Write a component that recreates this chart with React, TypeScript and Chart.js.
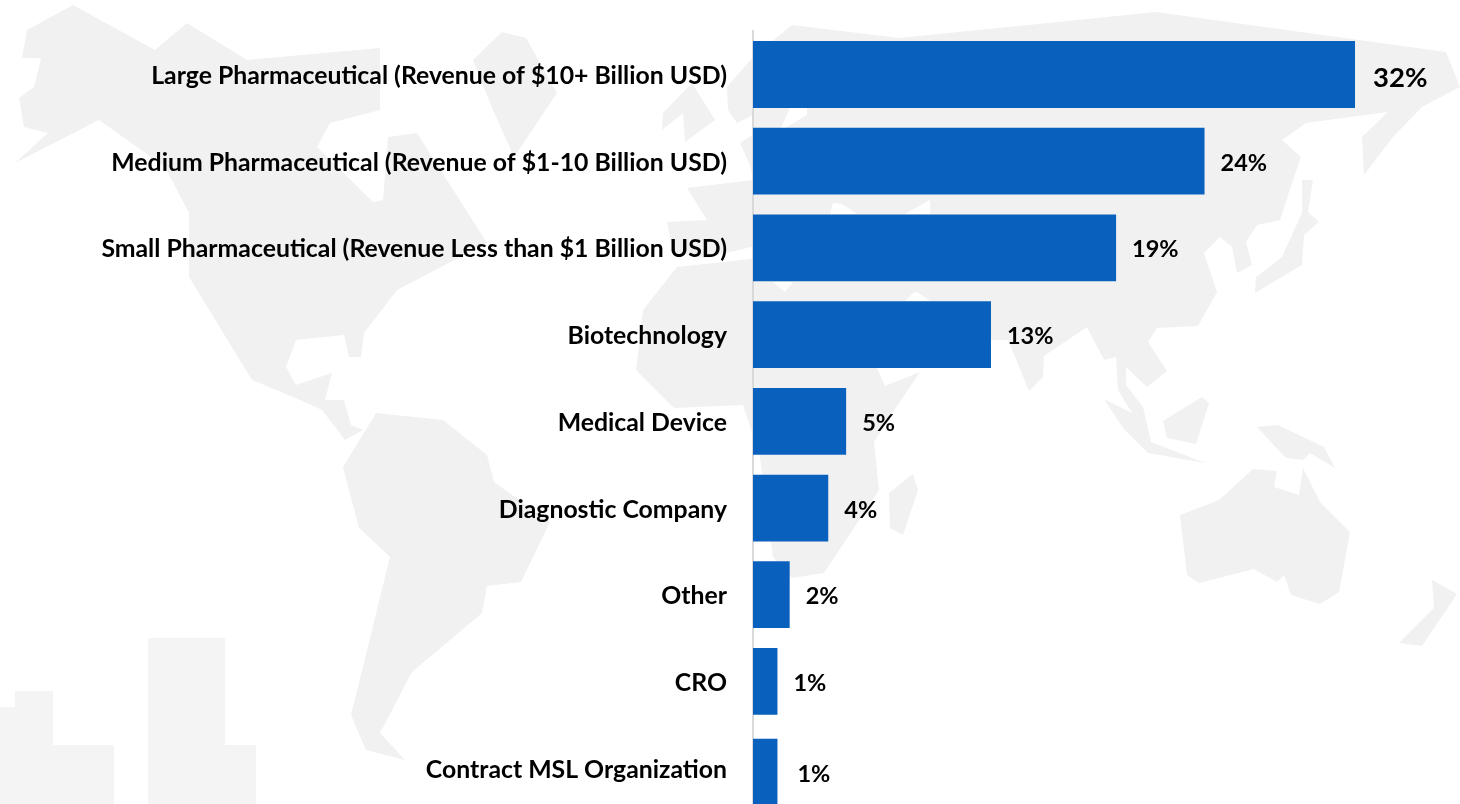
import React, { useEffect, useRef } from "react";
import { Chart, registerables } from "chart.js";

Chart.register(...registerables);

const categories = [
  "Large Pharmaceutical (Revenue of $10+ Billion USD)",
  "Medium Pharmaceutical (Revenue of $1-10 Billion USD)",
  "Small Pharmaceutical (Revenue Less than $1 Billion USD)",
  "Biotechnology",
  "Medical Device",
  "Diagnostic Company",
  "Other",
  "CRO",
  "Contract MSL Organization",
];
const shares = [32.0, 24.0, 19.3, 12.65, 4.95, 4.0, 1.95, 1.3, 1.3];

const FONT = "Lato, 'Open Sans', sans-serif";
const BLUE = "#0a60bd";
const MAP_GREY = "#f1f1f1";

const continents = [
  // North America
  "27,30 73,5 155,50 187,23 247,60 380,48 380,110 330,123 317,147 373,202 383,200 388,137 417,133 487,243 397,290 364,333 361,357 349,357 344,335 296,340 286,367 296,385 332,373 325,400 344,400 351,425 363,430 345,440 322,410 300,400 252,380 189,277 189,213 165,167 99,120 15,163 48,133 24,127 19,98 34,87 41,58 22,58",
  // Greenland
  "473,60 502,32 526,38 557,93 521,147 514,157 490,103",
  // South America
  "376,413 443,420 487,455 494,482 550,522 521,582 487,586 482,613 412,672 380,733 405,760 366,750 351,715 390,557 359,528 343,467",
  // British Isles
  "662,130 663,113 692,83 715,120 685,142 683,113",
  // Europe
  "753,57 727,87 728,110 737,123 753,115 760,130 740,143 750,165 753,180 687,188 707,220 667,222 673,252 705,258 760,245",
  // Africa
  "760,258 677,267 643,310 636,370 674,408 743,405 760,457 773,557 792,578 824,573 879,490 874,442 893,412 920,372 885,386 878,370 850,330 800,270",
  // Asia
  "753,57 792,25 899,38 1156,12 1446,52 1460,87 1422,107 1393,137 1364,175 1362,137 1388,112 1350,117 1306,123 1282,140 1301,157 1293,180 1280,220 1257,225 1246,242 1252,265 1237,273 1232,247 1220,237 1204,253 1217,292 1198,326 1157,328 1148,342 1167,371 1147,387 1126,367 1126,385 1143,407 1151,442 1205,463 1148,453 1123,428 1104,399 1132,413 1118,390 1116,357 1104,360 1087,327 1044,356 1043,377 1029,391 1008,340 980,340 900,345 800,300 760,290 753,200",
  // Japan
  "1302,180 1313,180 1308,212 1319,222 1304,235 1302,265 1255,293 1256,277 1282,257 1302,213",
  // Borneo
  "1163,421 1202,397 1209,403 1196,444 1167,438",
  // New Guinea
  "1257,427 1278,425 1324,447 1335,468 1310,453 1303,460 1286,458",
  // Australia
  "1253,469 1277,471 1274,487 1299,495 1303,468 1320,502 1350,532 1339,592 1320,604 1291,595 1284,575 1277,582 1254,569 1199,583 1187,575 1180,515 1219,500",
  // New Zealand
  "1432,580 1457,594 1422,646 1399,643 1434,608",
  // Madagascar
  "913,474 918,490 903,535 890,528 889,493",
];

const seas = [
  "790,108 807,108 807,115 785,128 781,128",
  "833,203 842,204 857,214 830,214",
  "905,214 930,200 930,214",
  "773,282 793,282 785,292",
  "913,293 917,292 930,301 905,301",
];

const buildings = [
  "0,707 15,707 15,691 53,691 53,745 114,745 114,804 0,804",
  "148,638 225,638 225,745 256,745 256,804 148,804",
];

const lastBarShift = {
  id: "lastBarShift",
  afterDatasetsUpdate(chart: any) {
    const bars = chart.getDatasetMeta(0).data;
    const last = bars[bars.length - 1];
    last.y += 4;
    last.base -= 2;
  },
};

const tickNudge = {
  id: "tickNudge",
  beforeDraw(chart: any) {
    chart.scales.y.getLabelItems().forEach((item: any) => {
      item.options.translation = [item.options.translation[0], item.options.translation[1] + 1.5];
    });
  },
};

const valueLabels = {
  id: "valueLabels",
  afterDatasetsDraw(chart: any) {
    const { ctx } = chart;
    const bars = chart.getDatasetMeta(0).data;
    ctx.save();
    ctx.fillStyle = "#000000";
    ctx.textAlign = "left";
    ctx.textBaseline = "middle";
    bars.forEach((bar: any, i: number) => {
      ctx.font = `700 ${i === 0 ? 27.5 : 23.5}px ${FONT}`;
      const gap = i === 0 ? 18 : i === bars.length - 1 ? 20 : 16;
      ctx.fillText(`${Math.round(shares[i])}%`, bar.x + gap, bar.y + (i === 0 ? 3.5 : 2));
    });
    ctx.restore();
  },
};

export default function App() {
  const canvasRef = useRef<HTMLCanvasElement | null>(null);

  useEffect(() => {
    const chart = new Chart(canvasRef.current as HTMLCanvasElement, {
      type: "bar",
      data: {
        labels: categories,
        datasets: [
          {
            data: shares,
            backgroundColor: BLUE,
            barPercentage: 0.77,
            categoryPercentage: 1,
          },
        ],
      },
      options: {
        indexAxis: "y",
        responsive: false,
        maintainAspectRatio: false,
        animation: false,
        layout: { padding: { top: 31.15, bottom: 20.5, left: 0, right: 0 } },
        plugins: { legend: { display: false }, tooltip: { enabled: false } },
        scales: {
          x: { display: false, min: 0, max: 37.58 },
          y: {
            afterFit(scale: any) {
              scale.width = 753;
              scale.paddingTop = 0;
              scale.paddingBottom = 0;
            },
            grid: { display: false, drawTicks: false },
            border: { display: true, color: "#d9d9d9", width: 2 },
            ticks: {
              autoSkip: false,
              padding: 26,
              color: "#000000",
              font: { family: FONT, size: 24.8, weight: 700 },
            },
          },
        },
      },
      plugins: [lastBarShift, tickNudge, valueLabels],
    } as any);
    return () => chart.destroy();
  }, []);

  return (
    <div style={{ position: "fixed", left: 0, top: 0, width: 1460, height: 804, overflow: "hidden", background: "#ffffff" }}>
      <svg width={1460} height={804} style={{ position: "absolute", left: 0, top: 0 }}>
        {continents.map((points, i) => (
          <polygon key={i} points={points} fill={MAP_GREY} />
        ))}
        {seas.map((points, i) => (
          <polygon key={i} points={points} fill="#ffffff" />
        ))}
        {buildings.map((points, i) => (
          <polygon key={i} points={points} fill="#f4f4f4" />
        ))}
      </svg>
      <canvas ref={canvasRef} width={1460} height={832} style={{ position: "absolute", left: 0, top: 0 }} />
    </div>
  );
}
